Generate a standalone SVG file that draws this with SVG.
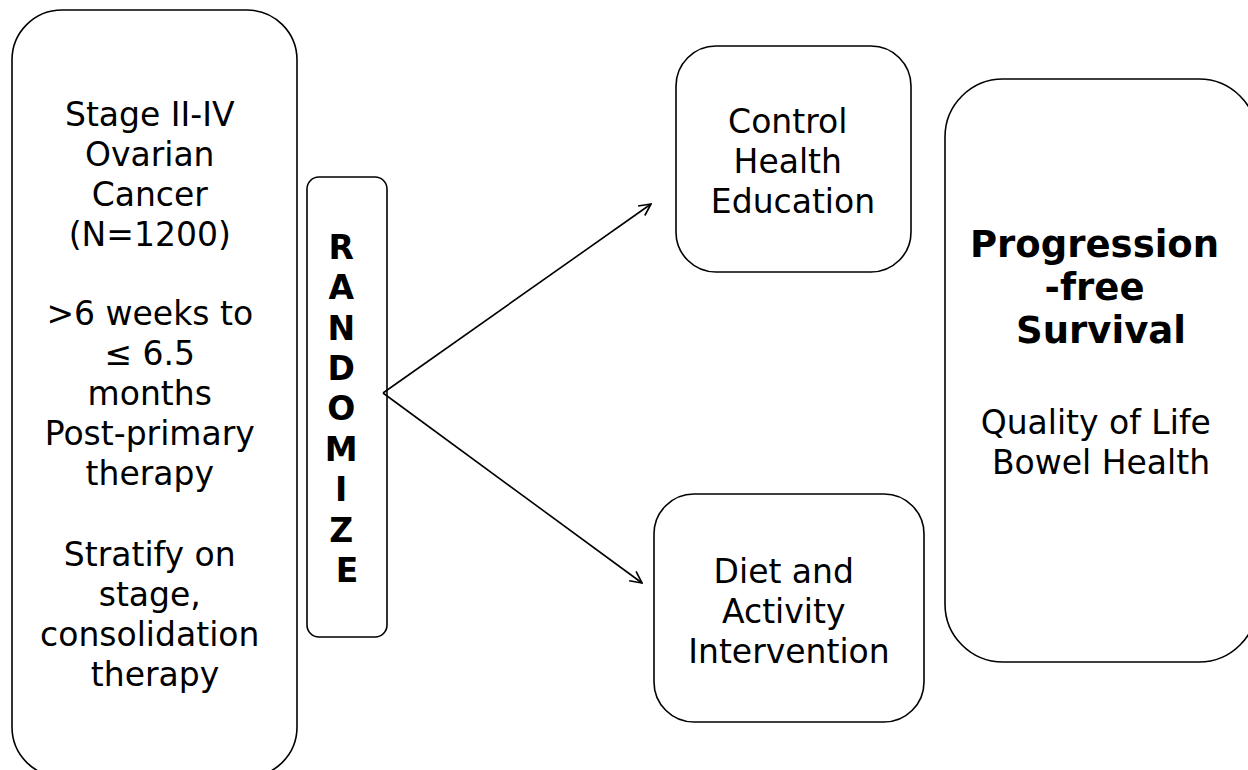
<svg xmlns="http://www.w3.org/2000/svg" width="1248" height="770" viewBox="0 0 1248 770">
<style>
.box{fill:#fff;stroke:#000;stroke-width:1.6}
.t{font-family:"DejaVu Sans",Verdana,sans-serif;font-size:33px;fill:#000;text-anchor:middle}
.b{font-family:"DejaVu Sans",Verdana,sans-serif;font-size:37px;font-weight:bold;fill:#000;text-anchor:middle}
.r{font-family:"DejaVu Sans",Verdana,sans-serif;font-size:33px;font-weight:bold;fill:#000;text-anchor:middle}
.c{fill:none;stroke:#000;stroke-width:1.6}
</style>
<defs>
<marker id="arr" viewBox="0 0 12 12" refX="11" refY="6" markerWidth="14" markerHeight="14" markerUnits="userSpaceOnUse" orient="auto">
<path d="M1,1 L11,6 L1,11" fill="none" stroke="#000" stroke-width="1.4"/>
</marker>
</defs>
<rect width="1248" height="770" fill="#fff"/>
<g id="eligibility">
<rect class="box" x="12" y="10" width="285" height="767" rx="50"/>
<text class="t">
<tspan x="155" y="126">Stage II-IV</tspan>
<tspan x="155" y="166">Ovarian</tspan>
<tspan x="155" y="206">Cancer</tspan>
<tspan x="155" y="246">(N=1200)</tspan>
<tspan x="155" y="325">&gt;6 weeks to</tspan>
<tspan x="155" y="365">≤ 6.5</tspan>
<tspan x="155" y="405">months</tspan>
<tspan x="155" y="445">Post-primary</tspan>
<tspan x="155" y="485">therapy</tspan>
<tspan x="155" y="566">Stratify on</tspan>
<tspan x="155" y="606">stage,</tspan>
<tspan x="155" y="646">consolidation</tspan>
<tspan x="155" y="686">therapy</tspan>
</text>
</g>
<g id="randomize">
<rect class="box" x="307" y="177" width="80" height="460" rx="12"/>
<text class="r">
<tspan x="347" y="259">R</tspan>
<tspan x="347" y="299">A</tspan>
<tspan x="347" y="340">N</tspan>
<tspan x="347" y="380">D</tspan>
<tspan x="347" y="420">O</tspan>
<tspan x="347" y="461">M</tspan>
<tspan x="347" y="501">I</tspan>
<tspan x="347" y="542">Z</tspan>
<tspan x="347" y="582">E</tspan>
</text>
</g>
<g id="control">
<rect class="box" x="676" y="46" width="235" height="226" rx="40"/>
<text class="t">
<tspan x="793" y="133">Control</tspan>
<tspan x="793" y="173">Health</tspan>
<tspan x="793" y="213">Education</tspan>
</text>
</g>
<g id="intervention">
<rect class="box" x="654" y="494" width="270" height="228" rx="40"/>
<text class="t">
<tspan x="789" y="583">Diet and</tspan>
<tspan x="789" y="623">Activity</tspan>
<tspan x="789" y="663">Intervention</tspan>
</text>
</g>
<g id="outcomes">
<rect class="box" x="945" y="79" width="312" height="583" rx="58"/>
<text class="b">
<tspan x="1101" y="257">Progression</tspan>
<tspan x="1101" y="300">-free</tspan>
<tspan x="1101" y="343">Survival</tspan>
</text>
<text class="t">
<tspan x="1101" y="434">Quality of Life</tspan>
<tspan x="1101" y="474">Bowel Health</tspan>
</text>
</g>
<g id="connectors">
<line class="c" x1="383" y1="393" x2="651" y2="204" marker-end="url(#arr)"/>
<line class="c" x1="383" y1="393" x2="642" y2="583" marker-end="url(#arr)"/>
</g>
</svg>
